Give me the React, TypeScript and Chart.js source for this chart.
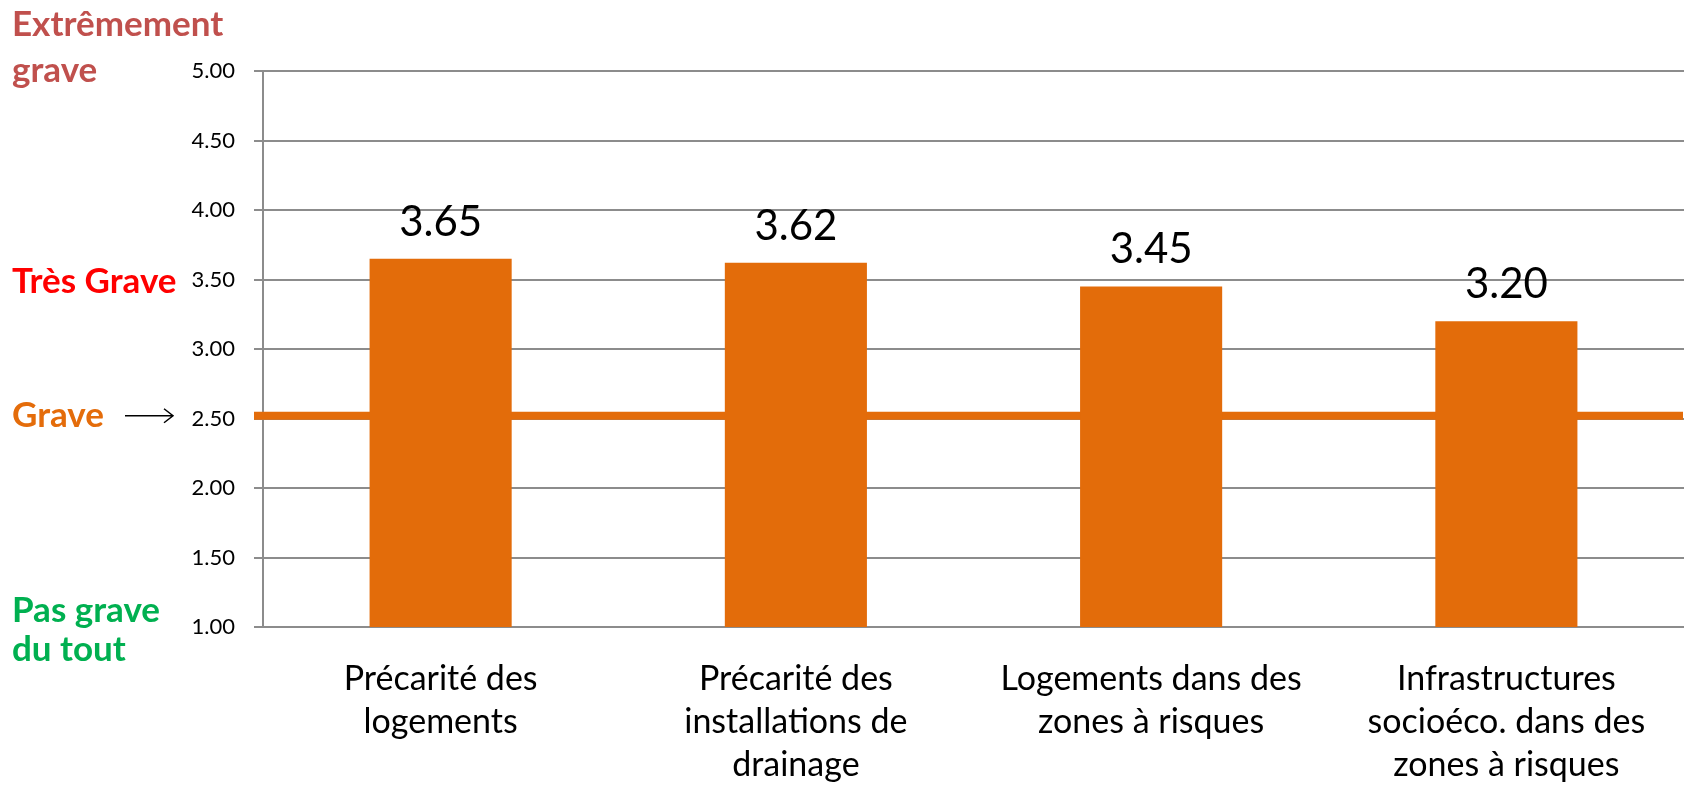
import React, { useEffect, useRef } from "react";
import { Chart, registerables } from "chart.js";

Chart.register(...registerables);

const categories: string[][] = [
  ["Précarité des", "logements"],
  ["Précarité des", "installations de", "drainage"],
  ["Logements dans des", "zones à risques"],
  ["Infrastructures", "socioéco. dans des", "zones à risques"],
];
const values: number[] = [3.65, 3.62, 3.45, 3.2];
const valueLabels: string[] = ["3.65", "3.62", "3.45", "3.20"];
const yTicks: number[] = [1, 1.5, 2, 2.5, 3, 3.5, 4, 4.5, 5];
const graveLineValue = 2.52;
const levelLabels = [
  { lines: ["Extrêmement", "grave"], value: 5.0, color: "#C0504D" },
  { lines: ["Très Grave"], value: 3.5, color: "#FF0000" },
  { lines: ["Grave"], value: 2.52, color: "#E46C0A" },
  { lines: ["Pas grave", "du tout"], value: 1.0, color: "#00B050" },
];

const ORANGE = "#E36C0A";
const GRID = "#8C8C8C";
const FONT = "Lato, 'Open Sans', sans-serif";

const overlayPlugin = {
  id: "overlay",
  beforeDatasetsDraw(chart: any) {
    const { ctx } = chart;
    const y = chart.scales.y;
    const py = y.getPixelForValue(graveLineValue);
    ctx.save();
    ctx.strokeStyle = ORANGE;
    ctx.lineWidth = 8;
    ctx.beginPath();
    ctx.moveTo(chart.chartArea.left - 9, py);
    ctx.lineTo(chart.chartArea.right - 1, py);
    ctx.stroke();
    ctx.restore();
  },
  afterDatasetsDraw(chart: any) {
    const { ctx } = chart;
    const y = chart.scales.y;
    const meta = chart.getDatasetMeta(0);
    ctx.save();
    // value labels
    ctx.fillStyle = "#000";
    ctx.font = `42px ${FONT}`;
    ctx.textAlign = "center";
    ctx.textBaseline = "alphabetic";
    meta.data.forEach((bar: any, i: number) => {
      ctx.fillText(valueLabels[i], bar.x, bar.y - 23);
    });
    // level labels
    ctx.font = `bold 35px ${FONT}`;
    ctx.textAlign = "left";
    levelLabels.forEach((l) => {
      const py = y.getPixelForValue(l.value);
      ctx.fillStyle = l.color;
      let offs: number[];
      if (l.lines.length === 2 && l.value === 5.0) offs = [-35, 11];
      else if (l.lines.length === 2) offs = [-5, 34];
      else if (l.value === 3.5) offs = [13];
      else offs = [11];
      l.lines.forEach((t, k) => ctx.fillText(t, 12, py + offs[k]));
    });
    // arrow
    const ay = y.getPixelForValue(graveLineValue);
    ctx.strokeStyle = "#000";
    ctx.lineWidth = 1.5;
    ctx.beginPath();
    ctx.moveTo(125, ay);
    ctx.lineTo(173, ay);
    ctx.moveTo(164, ay - 7);
    ctx.lineTo(173, ay);
    ctx.lineTo(164, ay + 7);
    ctx.stroke();
    ctx.restore();
  },
};

export default function App() {
  const ref = useRef<HTMLCanvasElement>(null);
  useEffect(() => {
    if (!ref.current) return;
    const chart = new Chart(ref.current, {
      type: "bar",
      data: {
        labels: categories,
        datasets: [
          {
            data: values,
            backgroundColor: ORANGE,
            borderWidth: 0,
            categoryPercentage: 1,
            barPercentage: 0.4,
          },
        ],
      },
      options: {
        animation: false,
        responsive: false,
        maintainAspectRatio: false,
        layout: { padding: { top: 71, right: 2, left: 0, bottom: 0 } },
        plugins: { legend: { display: false }, tooltip: { enabled: false } },
        scales: {
          x: {
            grid: { display: false, drawTicks: false },
            border: { display: false },
            ticks: {
              color: "#000",
              font: { family: FONT, size: 34, lineHeight: 1.265 },
              padding: 31,
              maxRotation: 0,
              autoSkip: false,
            },
            afterFit(scale: any) {
              scale.height = 158;
            },
          },
          y: {
            min: 1,
            max: 5,
            afterBuildTicks(scale: any) {
              scale.ticks = yTicks.map((v) => ({ value: v }));
            },
            grid: { color: GRID, lineWidth: 2, tickLength: 9, drawTicks: true },
            border: { display: true, color: GRID, width: 2 },
            ticks: {
              color: "#000",
              font: { family: FONT, size: 22 },
              padding: 19,
              callback: (v: any) => Number(v).toFixed(2),
            },
            afterFit(scale: any) {
              scale.width = 263;
            },
          },
        },
      },
      plugins: [overlayPlugin],
    });
    return () => chart.destroy();
  }, []);
  return (
    <div style={{ position: "fixed", left: 0, top: 0, width: 1686, height: 785, background: "#fff" }}>
      <canvas ref={ref} width={1686} height={785} style={{ display: "block" }} />
    </div>
  );
}
